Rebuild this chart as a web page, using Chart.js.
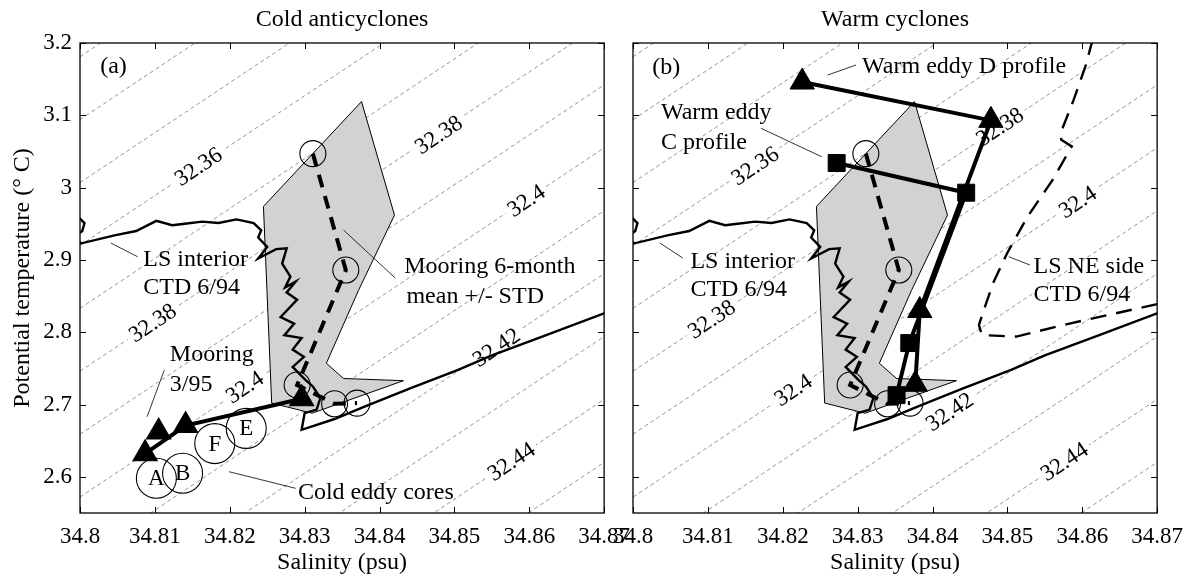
<!DOCTYPE html>
<html>
<head>
<meta charset="utf-8">
<script src="https://cdn.jsdelivr.net/npm/chart.js@4.4.1/dist/chart.umd.min.js"></script>
<style>
  html, body { margin: 0; padding: 0; background: #fff; }
  #wrap { position: relative; width: 1193px; height: 577px; overflow: hidden; }
  canvas { position: absolute; top: 0; }
  #panelA { left: 0; }
  #panelB { left: 593px; }
</style>
</head>
<body>
<div id="wrap">
  <canvas id="panelA" width="640" height="577"></canvas>
  <canvas id="panelB" width="600" height="577"></canvas>
</div>
<script>
// ---- axes ----
const xTicks = [34.8, 34.81, 34.82, 34.83, 34.84, 34.85, 34.86, 34.87];
const xTickLabels = ['34.8', '34.81', '34.82', '34.83', '34.84', '34.85', '34.86', '34.87'];
const yTicks = [2.6, 2.7, 2.8, 2.9, 3.0, 3.1, 3.2];
const yTickLabels = ['2.6', '2.7', '2.8', '2.9', '3', '3.1', '3.2'];

// ---- isopycnals: temperature where each level crosses S = 34.80 and S = 34.87 ----
const isoLevels = [32.33, 32.34, 32.35, 32.36, 32.37, 32.38, 32.39, 32.40, 32.41, 32.42, 32.43, 32.44, 32.45];
const isoSLeft = 34.8;
const isoSRight = 34.87;
const isoTLeft = [3.181, 3.094, 3.007, 2.920, 2.833, 2.746, 2.659, 2.572, 2.485, 2.398, 2.311, 2.224, 2.137];
const isoTRight = [3.664, 3.577, 3.490, 3.403, 3.316, 3.229, 3.142, 3.055, 2.968, 2.881, 2.794, 2.707, 2.620];

// contour labels
const isoLabelTextA = ['32.36', '32.38', '32.4', '32.38', '32.4', '32.42', '32.44'];
const isoLabelSA = [34.8158, 34.8479, 34.8596, 34.8097, 34.8220, 34.8556, 34.8576];
const isoLabelTA = [3.029, 3.073, 2.982, 2.813, 2.724, 2.779, 2.621];
const isoLabelTextB = ['32.36', '32.38', '32.4', '32.38', '32.4', '32.42', '32.44'];
const isoLabelSB = [34.8163, 34.8490, 34.8594, 34.8105, 34.8214, 34.8423, 34.8576];
const isoLabelTB = [3.030, 3.084, 2.980, 2.818, 2.720, 2.690, 2.621];

// ---- LS interior CTD 6/94 ----
const lsInteriorS = [34.7995, 34.8006, 34.8003, 34.7990, 34.8002, 34.8046, 34.8075, 34.8102, 34.8123, 34.8140,
  34.8163, 34.8185, 34.8209, 34.8232, 34.8242, 34.8238, 34.8250, 34.8238, 34.8262, 34.8276,
  34.8270, 34.8281, 34.8274, 34.8288, 34.8276, 34.8290, 34.8268, 34.8286, 34.8273, 34.8296,
  34.8284, 34.8299, 34.8284, 34.8301, 34.8311, 34.8321, 34.8316, 34.8300, 34.8296, 34.8340,
  34.8380, 34.8440, 34.8505, 34.8550, 34.8620, 34.8705];
const lsInteriorT = [2.962, 2.951, 2.940, 2.930, 2.923, 2.934, 2.940, 2.954, 2.948, 2.950,
  2.953, 2.951, 2.956, 2.951, 2.941, 2.931, 2.918, 2.902, 2.915, 2.916,
  2.895, 2.877, 2.862, 2.870, 2.855, 2.845, 2.821, 2.812, 2.796, 2.792,
  2.776, 2.766, 2.752, 2.734, 2.725, 2.709, 2.693, 2.688, 2.665, 2.680,
  2.697, 2.722, 2.748, 2.768, 2.795, 2.828];

// ---- mooring 6-month mean +/- STD ----
const envelopeS = [34.8376, 34.8420, 34.8372, 34.8329, 34.8352, 34.8432, 34.8310, 34.8256, 34.8245, 34.8376];
const envelopeT = [3.119, 2.962, 2.858, 2.757, 2.736, 2.733, 2.688, 2.702, 2.974, 3.119];
const meanS = [34.8311, 34.8355, 34.8290, 34.8340, 34.8370];
const meanT = [3.047, 2.886, 2.727, 2.701, 2.702];

// ---- panel (a): mooring 3/95 and cold eddy cores ----
const mooringS = [34.8105, 34.8087, 34.8141, 34.8296];
const mooringT = [2.662, 2.632, 2.671, 2.708];
const eddyCoreNames = ['A', 'B', 'F', 'E'];
const eddyCoreS = [34.8102, 34.8137, 34.8180, 34.8222];
const eddyCoreT = [2.598, 2.605, 2.646, 2.667];

// ---- panel (b): warm eddy profiles and LS NE side ----
const eddyDS = [34.8226, 34.8478, 34.8383, 34.8377];
const eddyDT = [3.146, 3.093, 2.830, 2.728];
const eddyCS = [34.8272, 34.8445, 34.8369, 34.8352];
const eddyCT = [3.034, 2.993, 2.785, 2.713];
const lsNeS = [34.8614, 34.8604, 34.8588, 34.8571, 34.8572, 34.8586, 34.8560, 34.8527, 34.8500, 34.8481,
  34.8470, 34.8462, 34.8466, 34.8512, 34.8583, 34.8705];
const lsNeT = [3.205, 3.167, 3.120, 3.075, 3.066, 3.057, 3.010, 2.960, 2.910, 2.868,
  2.835, 2.810, 2.796, 2.794, 2.812, 2.840];

const SERIF = '"Liberation Serif", "Times New Roman", serif';
Chart.defaults.font.family = SERIF;
Chart.defaults.color = '#000';

function pts(sArr, tArr) {
  return sArr.map((s, i) => ({ x: s, y: tArr[i] }));
}

function lineSet(role, data, opts) {
  return Object.assign({
    role: role, data: data, showLine: true, pointRadius: 0, borderColor: '#000',
    borderWidth: 2, fill: false, clip: 0, tension: 0
  }, opts);
}

function markerSet(role, data, style, radius, fill, order) {
  return {
    role: role, data: data, showLine: false, pointStyle: style, pointRadius: radius,
    pointBackgroundColor: fill, pointBorderColor: '#000', pointBorderWidth: 1.1, order: order
  };
}

function commonSets() {
  const sets = isoLevels.map((lv, i) => lineSet('iso',
    [{ x: isoSLeft, y: isoTLeft[i] }, { x: isoSRight, y: isoTRight[i] }],
    { borderColor: '#8a8a8a', borderWidth: 0.9, borderDash: [4, 3], order: 20 }));
  sets.push(lineSet('envelope', pts(envelopeS, envelopeT),
    { borderWidth: 1, fill: 'shape', backgroundColor: '#d2d2d2', order: 19 }));
  sets.push(lineSet('lsInterior', pts(lsInteriorS, lsInteriorT), { borderWidth: 2.4, order: 18 }));
  sets.push(lineSet('mean', pts(meanS, meanT), { borderWidth: 4, borderDash: [13, 9], order: 17 }));
  sets.push(markerSet('meanCircles', pts(meanS, meanT), 'circle', 13, 'rgba(0,0,0,0)', 16));
  return sets;
}

function panelASets() {
  const sets = commonSets();
  sets.push(lineSet('mooringLine', pts(mooringS.slice(1), mooringT.slice(1)), { borderWidth: 4, order: 15 }));
  sets.push(markerSet('mooring', pts(mooringS, mooringT), 'triangle', 14, '#000', 14));
  sets.push(markerSet('eddyCores', pts(eddyCoreS, eddyCoreT), 'circle', 20, 'rgba(0,0,0,0)', 13));
  return sets;
}

function panelBSets() {
  const sets = commonSets();
  sets.push(lineSet('lsNe', pts(lsNeS, lsNeT), { borderWidth: 2.4, borderDash: [16, 10], order: 18 }));
  sets.push(lineSet('eddyD', pts(eddyDS, eddyDT), {
    borderWidth: 4, pointStyle: 'triangle', pointRadius: 14, pointBackgroundColor: '#000',
    pointBorderColor: '#000', pointBorderWidth: 1, order: 12
  }));
  sets.push(lineSet('eddyC', pts(eddyCS, eddyCT), {
    borderWidth: 4, pointStyle: 'rect', pointRadius: 12, pointBackgroundColor: '#000',
    pointBorderColor: '#000', pointBorderWidth: 1, order: 11
  }));
  return sets;
}

// contour labels sit on a white box that breaks the dashed isopycnal
const isoLabelPlugin = {
  id: 'isoLabels',
  beforeDatasetDraw(chart, args, opts) {
    if (chart.data.datasets[args.index].role !== 'envelope') return;
    const { ctx, scales: { x, y } } = chart;
    ctx.save();
    ctx.font = '23px ' + SERIF;
    ctx.textAlign = 'center';
    ctx.textBaseline = 'middle';
    opts.text.forEach((txt, i) => {
      const k = isoLevels.findIndex(v => Math.abs(v - parseFloat(txt)) < 1e-6);
      const ang = Math.atan2(y.getPixelForValue(isoTRight[k]) - y.getPixelForValue(isoTLeft[k]),
        x.getPixelForValue(isoSRight) - x.getPixelForValue(isoSLeft));
      const w = ctx.measureText(txt).width;
      ctx.save();
      ctx.translate(x.getPixelForValue(opts.s[i]), y.getPixelForValue(opts.t[i]));
      ctx.rotate(ang);
      ctx.fillStyle = '#fff';
      ctx.fillRect(-w / 2 - 4, -9, w + 8, 18);
      ctx.fillStyle = '#000';
      ctx.fillText(txt, 0, 1);
      ctx.restore();
    });
    ctx.restore();
  }
};

const notesPlugin = {
  id: 'notes',
  afterDatasetsDraw(chart, args, opts) {
    const { ctx, scales: { x, y } } = chart;
    ctx.save();
    ctx.strokeStyle = '#000';
    ctx.lineWidth = 0.8;
    ctx.beginPath();
    opts.leaders.forEach(l => {
      ctx.moveTo(x.getPixelForValue(l[0]), y.getPixelForValue(l[1]));
      ctx.lineTo(x.getPixelForValue(l[2]), y.getPixelForValue(l[3]));
    });
    ctx.stroke();
    ctx.fillStyle = '#000';
    ctx.font = '24px ' + SERIF;
    ctx.textAlign = 'left';
    ctx.textBaseline = 'middle';
    opts.texts.forEach(t => ctx.fillText(t[0], x.getPixelForValue(t[1]), y.getPixelForValue(t[2])));
    if (opts.coreLetters) {
      ctx.font = '23px ' + SERIF;
      ctx.textAlign = 'center';
      eddyCoreNames.forEach((n, i) => ctx.fillText(n, x.getPixelForValue(eddyCoreS[i]), y.getPixelForValue(eddyCoreT[i]) + 1));
    }
    ctx.restore();
  }
};

// box frame with inward ticks on all four sides
const framePlugin = {
  id: 'frame',
  afterDatasetsDraw(chart) {
    const { ctx, chartArea: a, scales: { x, y } } = chart;
    ctx.save();
    ctx.strokeStyle = '#000';
    ctx.lineWidth = 1.3;
    ctx.strokeRect(a.left, a.top, a.right - a.left, a.bottom - a.top);
    ctx.lineWidth = 1;
    ctx.beginPath();
    x.ticks.forEach(t => {
      const px = Math.round(x.getPixelForValue(t.value)) + 0.5;
      ctx.moveTo(px, a.bottom); ctx.lineTo(px, a.bottom - 6);
      ctx.moveTo(px, a.top); ctx.lineTo(px, a.top + 6);
    });
    y.ticks.forEach(t => {
      const py = Math.round(y.getPixelForValue(t.value)) + 0.5;
      ctx.moveTo(a.left, py); ctx.lineTo(a.left + 6, py);
      ctx.moveTo(a.right, py); ctx.lineTo(a.right - 6, py);
    });
    ctx.stroke();
    ctx.restore();
  }
};

function makeOptions(panel) {
  const isA = panel === 'a';
  return {
    responsive: false,
    animation: false,
    devicePixelRatio: 1,
    events: [],
    layout: { padding: { left: 0, right: 34, top: 0, bottom: 0 } },
    plugins: {
      legend: { display: false },
      tooltip: { enabled: false },
      title: {
        display: true, text: isA ? 'Cold anticyclones' : 'Warm cyclones', fullSize: false,
        color: '#000', font: { family: SERIF, size: 24, weight: 'normal' },
        padding: { top: 5.6, bottom: 8.6 }
      },
      isoLabels: isA
        ? { text: isoLabelTextA, s: isoLabelSA, t: isoLabelTA }
        : { text: isoLabelTextB, s: isoLabelSB, t: isoLabelTB },
      notes: isA ? {
        coreLetters: true,
        texts: [
          ['(a)', 34.8027, 3.167],
          ['LS interior', 34.80845, 2.900], ['CTD 6/94', 34.80845, 2.861],
          ['Mooring 6-month', 34.8433, 2.890], ['mean +/- STD', 34.8436, 2.849],
          ['Mooring', 34.8120, 2.7685], ['3/95', 34.8120, 2.727],
          ['Cold eddy cores', 34.8291, 2.5776]
        ],
        leaders: [
          [34.8041, 2.9234, 34.8077, 2.9044],
          [34.8352, 2.9413, 34.8421, 2.8750],
          [34.81126, 2.7477, 34.80896, 2.6831],
          [34.8199, 2.6071, 34.8288, 2.5841]
        ]
      } : {
        coreLetters: false,
        texts: [
          ['(b)', 34.80257, 3.1654],
          ['Warm eddy D profile', 34.8306, 3.1668],
          ['Warm eddy', 34.80373, 3.1032], ['C profile', 34.80373, 3.0617],
          ['LS interior', 34.80767, 2.8975], ['CTD 6/94', 34.80767, 2.8584],
          ['LS NE side', 34.8535, 2.8906], ['CTD 6/94', 34.8535, 2.8515]
        ],
        leaders: [
          [34.8260, 3.1557, 34.8298, 3.1696],
          [34.8171, 3.0820, 34.8252, 3.0427],
          [34.80359, 2.9234, 34.80665, 2.9026],
          [34.8502, 2.9044, 34.8530, 2.8930]
        ]
      }
    },
    scales: {
      x: {
        type: 'linear', min: 34.8, max: 34.87,
        afterBuildTicks: s => { s.ticks = xTicks.map(v => ({ value: v })); },
        afterFit: s => { s.height = 64; },
        grid: { display: false, drawTicks: false },
        border: { display: false },
        ticks: {
          color: '#000', font: { family: SERIF, size: 23 }, padding: 10,
          maxRotation: 0, autoSkip: false, callback: (v, i) => xTickLabels[i]
        },
        title: {
          display: true, text: 'Salinity (psu)', color: '#000',
          font: { family: SERIF, size: 24 }, padding: { top: 0, bottom: 0 }
        }
      },
      y: {
        type: 'linear', min: 2.55, max: 3.2,
        afterBuildTicks: s => { s.ticks = yTicks.map(v => ({ value: v })); },
        afterFit: s => { s.width = isA ? 80 : 40; },
        grid: { display: false, drawTicks: false },
        border: { display: false },
        ticks: {
          display: isA, color: '#000', font: { family: SERIF, size: 23 }, padding: 8,
          autoSkip: false, callback: (v, i) => yTickLabels[i]
        },
        title: {
          display: isA, text: 'Potential temperature (° C)', color: '#000',
          font: { family: SERIF, size: 24 }, padding: { top: 8.6, bottom: 0 }
        }
      }
    }
  };
}

new Chart(document.getElementById('panelA'), {
  type: 'scatter',
  data: { datasets: panelASets() },
  options: makeOptions('a'),
  plugins: [isoLabelPlugin, notesPlugin, framePlugin]
});

new Chart(document.getElementById('panelB'), {
  type: 'scatter',
  data: { datasets: panelBSets() },
  options: makeOptions('b'),
  plugins: [isoLabelPlugin, notesPlugin, framePlugin]
});
</script>
</body>
</html>
